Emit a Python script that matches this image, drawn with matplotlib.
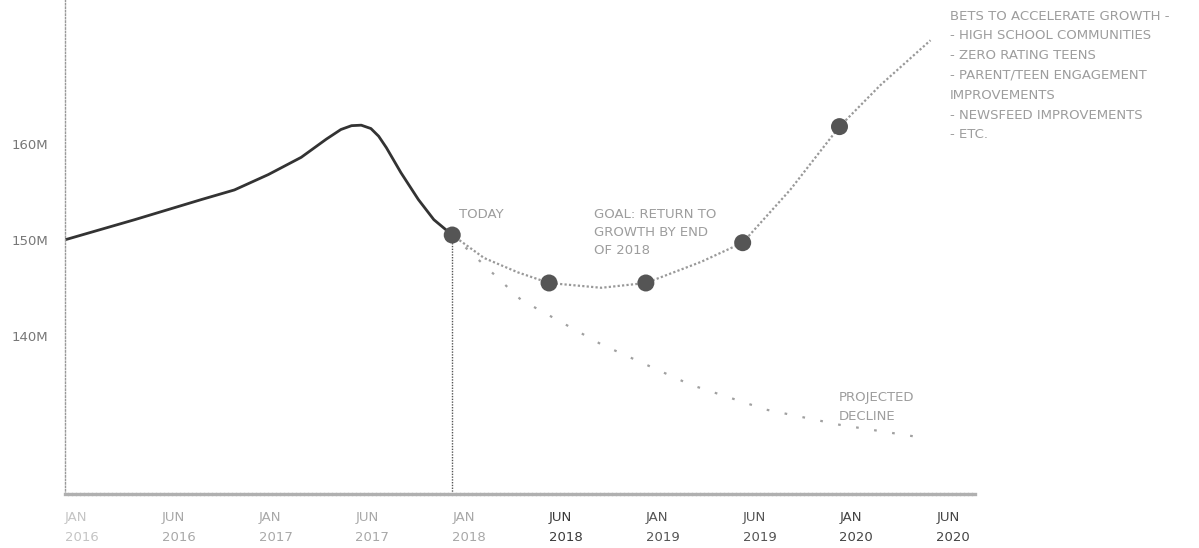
import matplotlib.pyplot as plt

# tick labels (evenly spaced categories)
periods = ["JAN\n2016", "JUN\n2016", "JAN\n2017", "JUN\n2017", "JAN\n2018",
           "JUN\n2018", "JAN\n2019", "JUN\n2019", "JAN\n2020", "JUN\n2020"]
label_colors = ["#c4c4c4", "#a8a8a8", "#a8a8a8", "#a8a8a8", "#a8a8a8",
                "#3a3a3a", "#555555", "#555555", "#444444", "#444444"]

# history (millions), x = period index
hist_x = [0, 0.72, 1.41, 1.75, 2.10, 2.44, 2.70, 2.85, 2.96, 3.06, 3.16, 3.24, 3.32, 3.47, 3.65, 3.81, 4.0]
hist_y = [150.0, 152.1, 154.2, 155.2, 156.8, 158.6, 160.5, 161.5, 161.9, 161.95, 161.6, 160.8, 159.6, 157.0, 154.2, 152.1, 150.5]

# goal path
goal_x = [4.0, 4.33, 4.68, 5.0, 5.54, 6.0, 6.57, 7.0, 7.49, 8.0, 8.42, 8.94]
goal_y = [150.5, 148.1, 146.6, 145.5, 145.0, 145.5, 147.7, 149.7, 155.2, 161.8, 166.1, 170.8]

# milestones
mark_x = [4, 5, 6, 7, 8]
mark_y = [150.5, 145.5, 145.5, 149.7, 161.8]

# projected decline
decl_x = [4.0, 4.71, 5.54, 6.46, 7.24, 8.01, 8.84]
decl_y = [150.5, 143.75, 139.1, 134.9, 132.3, 130.7, 129.4]

yticks = [140, 150, 160]
ylabels = ["140M", "150M", "160M"]

bets = ("BETS TO ACCELERATE GROWTH -\n- HIGH SCHOOL COMMUNITIES\n- ZERO RATING TEENS\n"
        "- PARENT/TEEN ENGAGEMENT\nIMPROVEMENTS\n- NEWSFEED IMPROVEMENTS\n- ETC.")

plt.rcParams['font.family'] = ['DejaVu Sans']
fig = plt.figure(figsize=(11.99, 5.48), dpi=100)
ax = fig.add_axes([0.0542, 0.0985, 0.759, 0.9015])

ax.plot(decl_x, decl_y, color="#a0a0a0", lw=1.6, linestyle=(0, (1.2, 7)))
ax.plot(goal_x, goal_y, color="#999999", lw=1.6, linestyle=(0, (1, 1)))
ax.plot(hist_x, hist_y, color="#333333", lw=2.0)
ax.vlines(4, 123.5, 150.5, color="#555555", lw=1, linestyle=(0, (1, 1)))
ax.scatter(mark_x, mark_y, s=150, color="#555555", zorder=5, edgecolor="none")

ax.set_xlim(0, 9.4)
ax.set_ylim(123.5, 175)

for s in ["top", "right"]:
    ax.spines[s].set_visible(False)
ax.spines["left"].set_color("#999999")
ax.spines["left"].set_linestyle((0, (1, 1.5)))
ax.spines["left"].set_linewidth(1)
ax.spines["bottom"].set_color("#b0b0b0")
ax.spines["bottom"].set_linestyle((0, (0.6, 0.6)))
ax.spines["bottom"].set_linewidth(2.4)

ax.set_yticks(yticks)
ax.set_yticklabels(ylabels, fontsize=9.5, color="#777777")
ax.tick_params(axis="y", length=0, pad=12)

ax.set_xticks(range(len(periods)))
ax.set_xticklabels(periods, fontsize=9.5, ha="left", linespacing=1.7)
ax.tick_params(axis="x", length=0, pad=12)
for t, c in zip(ax.get_xticklabels(), label_colors):
    t.set_color(c)

txt = dict(fontsize=9.5, color="#9d9d9d", ha="left")
ax.text(4.07, 152.6, "TODAY", va="center", **txt)
ax.text(5.46, 153.3, "GOAL: RETURN TO\nGROWTH BY END\nOF 2018", va="top", linespacing=1.5, **txt)
ax.text(7.99, 134.2, "PROJECTED\nDECLINE", va="top", linespacing=1.6, **txt)
ax.text(9.14, 174.0, bets, va="top", linespacing=1.68, clip_on=False, **txt)

fig.savefig("out.png", dpi=100)
